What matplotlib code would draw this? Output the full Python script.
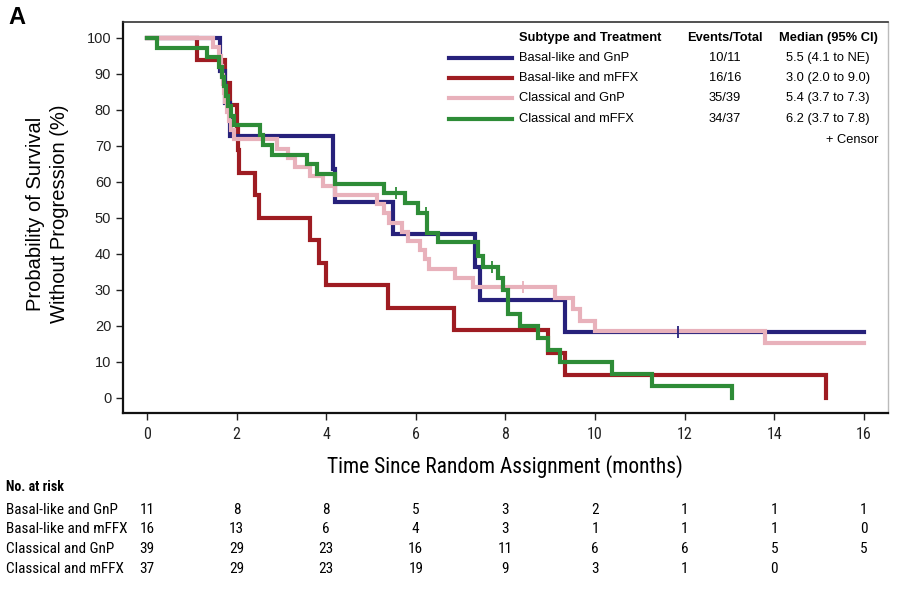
import numpy as np
import matplotlib
matplotlib.use('Agg')
import matplotlib.pyplot as plt
from matplotlib import font_manager
from matplotlib.lines import Line2D
import matplotlib.transforms as mtransforms

groups = ['Basal-like and GnP', 'Basal-like and mFFX', 'Classical and GnP', 'Classical and mFFX']
events_total = ['10/11', '16/16', '35/39', '34/37']
medians = ['5.5 (4.1 to NE)', '3.0 (2.0 to 9.0)', '5.4 (3.7 to 7.3)', '6.2 (3.7 to 7.8)']
colors = ['#27217b', '#9e1c22', '#e8b1bb', '#2e8c37']

# KM steps: time (months) and survival (%) after each drop
basal_gnp_t = [0, 1.62, 1.75, 1.85, 4.15, 4.2, 5.5, 7.33, 7.43, 9.33, 16.0]
basal_gnp_s = [100, 90.9, 81.8, 72.7, 63.6, 54.5, 45.5, 36.4, 27.3, 18.2, 18.2]
basal_gnp_cens = [11.85]

basal_mffx_t = [0, 1.12, 1.75, 1.85, 2.0, 2.02, 2.05, 2.4, 2.5, 3.64, 3.85, 4.0, 5.38, 6.85, 8.95, 9.33, 15.15]
basal_mffx_s = [100, 93.75, 87.5, 81.25, 75, 68.75, 62.5, 56.25, 50, 43.75, 37.5, 31.25, 25, 18.75, 12.5, 6.25, 0]
basal_mffx_cens = []

class_gnp_t = [0, 1.47, 1.6, 1.65, 1.68, 1.7, 1.72, 1.75, 1.78, 1.82, 1.88, 1.95,
               2.9, 3.15, 3.3, 3.64, 3.93, 4.2, 5.13, 5.3, 5.4, 5.7, 5.83, 6.1, 6.2, 6.3,
               6.87, 7.28, 9.1, 9.5, 9.67, 10.0, 13.8, 16.0]
class_gnp_s = [100, 97.4, 94.9, 92.3, 89.7, 87.2, 84.6, 82.1, 79.5, 76.9, 74.4, 71.8,
               69.2, 66.7, 64.1, 61.5, 59.0, 56.4, 53.8, 51.3, 48.7, 46.2, 43.6, 41.0, 38.5, 35.9,
               33.3, 30.8, 27.7, 24.6, 21.5, 18.5, 15.4, 15.4]
class_gnp_cens = [8.4]

class_mffx_t = [0, 0.22, 1.33, 1.6, 1.68, 1.72, 1.76, 1.8, 1.88, 1.95, 2.52, 2.6, 2.8,
                3.57, 3.8, 4.2, 5.3, 5.76, 6.05, 6.25, 6.5, 7.39, 7.5, 7.83, 7.95, 8.06,
                8.33, 8.73, 8.95, 9.22, 10.38, 11.27, 13.06]
class_mffx_s = [100, 97.3, 94.6, 91.9, 89.2, 86.5, 83.8, 81.1, 78.4, 75.7, 73.0, 70.3, 67.6,
                64.9, 62.2, 59.5, 56.8, 54.1, 51.4, 45.9, 43.2, 39.5, 36.4, 33.3, 30.0, 23.3,
                20.0, 16.7, 13.3, 10.0, 6.7, 3.3, 0]
class_mffx_cens = [5.56, 6.22, 7.7]

curve_t = [basal_gnp_t, basal_mffx_t, class_gnp_t, class_mffx_t]
curve_s = [basal_gnp_s, basal_mffx_s, class_gnp_s, class_mffx_s]
curve_cens = [basal_gnp_cens, basal_mffx_cens, class_gnp_cens, class_mffx_cens]

risk_times = [0, 2, 4, 6, 8, 10, 12, 14, 16]
at_risk = [[11, 8, 8, 5, 3, 2, 1, 1, 1],
           [16, 13, 6, 4, 3, 1, 1, 1, 0],
           [39, 29, 23, 16, 11, 6, 6, 5, 5],
           [37, 29, 23, 19, 9, 3, 1, 0]]

plt.rcParams['font.family'] = ['Liberation Sans', 'DejaVu Sans']


def narrow_font(bold=False):
    # look for any installed narrow/condensed face
    prefs = ['LiberationSansNarrow', 'RobotoCondensed', 'Roboto_Condensed', 'DejaVuSansCondensed',
             'OpenSansCondensed', 'NotoSans-Condensed', 'Condensed', 'Narrow']
    files = []
    for f in font_manager.fontManager.ttflist:
        w = f.weight if isinstance(f.weight, int) else (700 if f.weight == 'bold' else 400)
        if f.style != 'normal':
            continue
        if bold and w < 600:
            continue
        if not bold and w != 400:
            continue
        files.append(f.fname)
    for p in prefs:
        for fn in files:
            base = fn.split('/')[-1].replace(' ', '')
            if p.lower() in base.lower():
                return font_manager.FontProperties(fname=fn), True
    return font_manager.FontProperties(family='Liberation Sans', weight='bold' if bold else 'normal'), False


nfp, has_narrow = narrow_font()
nfp_b, _ = narrow_font(bold=True)
shrink = 1.0 if has_narrow else 0.9

W, H = 898, 600
fig = plt.figure(figsize=(W / 100, H / 100), dpi=100)
ax = fig.add_axes([123 / W, 1 - 413 / H, (888 - 123) / W, (413 - 22) / H])

zorders = [3, 2, 4, 5]
for i in range(4):
    ax.step(curve_t[i], curve_s[i], where='post', color=colors[i], lw=3.0,
            zorder=zorders[i], solid_joinstyle='miter')
    t = np.array(curve_t[i])
    s = np.array(curve_s[i])
    for c in curve_cens[i]:
        y = s[np.searchsorted(t, c, side='right') - 1]
        ax.plot([c], [y], marker='|', ms=9, mew=1.3, color=colors[i], zorder=6)

ax.set_xlim(-0.536, 16.54)
ax.set_ylim(-4.17, 104.4)
ax.set_xticks(range(0, 17, 2))
ax.set_yticks(range(0, 101, 10))
ax.tick_params(direction='out', length=5, width=1.0, colors='#222222')
ax.tick_params(axis='y', labelsize=10.5)
ax.tick_params(axis='x', pad=5)
for lab in ax.get_xticklabels():
    lab.set_fontproperties(nfp)
    lab.set_fontsize(11.5 * shrink)
for side in ['left', 'bottom']:
    ax.spines[side].set_linewidth(1.6)
    ax.spines[side].set_color('#111111')
ax.spines['top'].set_linewidth(1.2)
ax.spines['top'].set_color('#333333')
ax.spines['right'].set_linewidth(1.0)
ax.spines['right'].set_color('#bbbbbb')

ax.set_ylabel('Probability of Survival\nWithout Progression (%)', fontsize=14.5, linespacing=1.35)
ax.yaxis.set_label_coords(-0.07, 0.51)
ax.set_xlabel('Time Since Random Assignment (months)', fontproperties=nfp,
              fontsize=15.5 * shrink * (1.0 if has_narrow else 0.94))
ax.xaxis.set_label_coords(0.499, -0.108)

fig.text(8 / W, 1 - 18 / H, 'A', fontsize=17, fontweight='bold', va='center', ha='left')


def fy(py):
    return 1 - py / H


# legend table
hdr_y = 38
fig.text(519 / W, fy(hdr_y), 'Subtype and Treatment', fontsize=9.3, fontweight='bold', va='center')
fig.text(725 / W, fy(hdr_y), 'Events/Total', fontsize=9.3, fontweight='bold', va='center', ha='center')
fig.text(828 / W, fy(hdr_y), 'Median (95% CI)', fontsize=9.3, fontweight='bold', va='center', ha='center')
row_y = [58, 78, 98, 119]
for i in range(4):
    fig.add_artist(Line2D([449 / W, 512 / W], [fy(row_y[i])] * 2, color=colors[i], lw=3.0))
    fig.text(519 / W, fy(row_y[i]), groups[i], fontsize=9.3, va='center')
    fig.text(725 / W, fy(row_y[i]), events_total[i], fontsize=9.3, va='center', ha='center')
    fig.text(828 / W, fy(row_y[i]), medians[i], fontsize=9.3, va='center', ha='center')
fig.text(878 / W, fy(140), '+ Censor', fontsize=9.3, va='center', ha='right')

# numbers at risk
trans = mtransforms.blended_transform_factory(ax.transData, fig.transFigure)
t = fig.text(6 / W, fy(487), 'No. at risk', va='center', fontproperties=nfp_b)
t.set_fontsize(10 * shrink)
risk_y = [510, 529, 549, 569]
for i in range(4):
    t = fig.text(6 / W, fy(risk_y[i]), groups[i], va='center', fontproperties=nfp)
    t.set_fontsize(11 * shrink)
    for j, n in enumerate(at_risk[i]):
        t = fig.text(risk_times[j], fy(risk_y[i]), str(n), va='center', ha='center',
                     fontproperties=nfp, transform=trans)
        t.set_fontsize(11 * shrink)

fig.savefig('out.png', dpi=100)
